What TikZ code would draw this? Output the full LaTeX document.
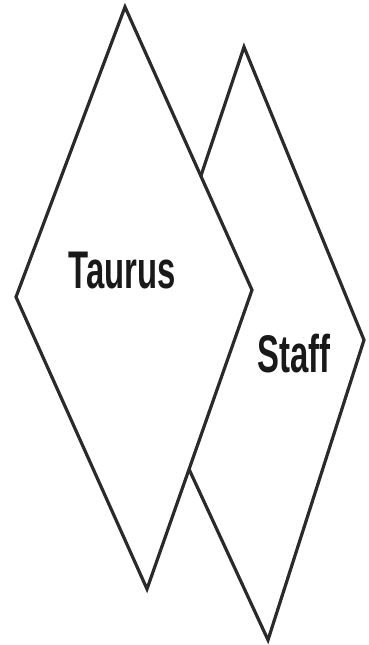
\documentclass[tikz,border=0pt]{standalone}
\usepackage{fontspec}
\usepackage{tikz}
\newfontfamily\condfont[FakeStretch=0.62]{Liberation Sans Bold}
\definecolor{ink}{HTML}{2A2A2A}

\begin{document}
\begin{tikzpicture}[
   x=1pt, y=-1pt,
   rhomb/.style={draw=ink, line width=3.2pt, line join=miter, fill=white},
   lbl/.style={font=\condfont\fontsize{53}{53}\selectfont, text=black!90, inner sep=0pt},
]
  \useasboundingbox (0,0) rectangle (368,645);
  % staff diamond (behind)
  \coordinate (st) at (244,47);
  \coordinate (sr) at (364,340);
  \coordinate (sb) at (268,640);
  \coordinate (sl) at (139,361);
  \draw[rhomb] (st) -- (sr) -- (sb) -- (sl) -- cycle;
  % taurus diamond (front)
  \coordinate (tt) at (125,7);
  \coordinate (tr) at (252,290);
  \coordinate (tb) at (147,589);
  \coordinate (tl) at (16,297);
  \draw[rhomb] (tt) -- (tr) -- (tb) -- (tl) -- cycle;
  \node[lbl] (taurus) at (122,271) {Taurus};
  \node[lbl] (staff) at (294,354) {Staff};
\end{tikzpicture}
\end{document}
